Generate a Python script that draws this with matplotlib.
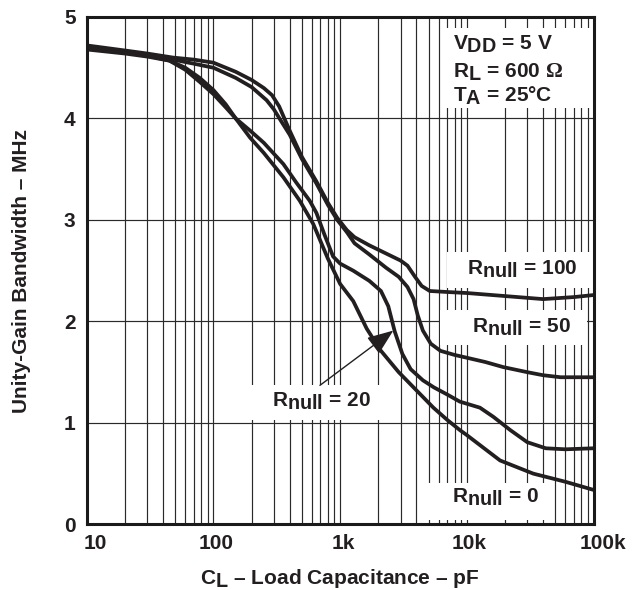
import matplotlib
matplotlib.use("Agg")
import matplotlib.pyplot as plt
from matplotlib.patches import Rectangle
from matplotlib.ticker import FixedLocator, LogLocator, NullFormatter
from matplotlib.transforms import ScaledTranslation

try:
    import matplotlib._mathtext as _mt
    _mt.SHRINK_FACTOR = 0.95   # subscripts nearly full size, as in the reference
except Exception:
    pass

plt.rcParams['font.family'] = ['Liberation Sans', 'DejaVu Sans']
plt.rcParams['font.weight'] = 'bold'
plt.rcParams['mathtext.fontset'] = 'custom'
plt.rcParams['mathtext.rm'] = 'Liberation Sans:bold'
plt.rcParams['mathtext.it'] = 'Liberation Sans:bold'
plt.rcParams['mathtext.bf'] = 'Liberation Sans:bold'
plt.rcParams['mathtext.sf'] = 'Liberation Serif'

# ---------------- data ----------------
cap_r100 = [10, 20, 30, 48, 70, 100, 150, 200, 250, 290, 330, 400, 500, 650, 800,
            950, 1130, 1300, 1700, 2300, 3000, 3400, 3900, 4400, 5100, 7000,
            10000, 20000, 40000, 70000, 100000]
bw_r100 = [4.72, 4.67, 4.64, 4.60, 4.58, 4.55, 4.46, 4.38, 4.30, 4.23, 4.12, 3.88,
           3.62, 3.38, 3.17, 3.02, 2.90, 2.83, 2.75, 2.67, 2.60, 2.55, 2.44, 2.35,
           2.30, 2.29, 2.28, 2.25, 2.22, 2.24, 2.26]

cap_r50 = [10, 20, 30, 48, 70, 100, 150, 200, 263, 300, 340, 400, 500, 650, 800,
           950, 1130, 1300, 1700, 2300, 2900, 3400, 3800, 4100, 4500, 5200, 6200,
           8000, 9400, 14000, 19400, 30000, 40000, 55000, 100000]
bw_r50 = [4.70, 4.66, 4.63, 4.58, 4.54, 4.50, 4.40, 4.31, 4.18, 4.09, 3.98, 3.84,
          3.60, 3.36, 3.15, 3.00, 2.88, 2.77, 2.66, 2.53, 2.44, 2.34, 2.22, 2.06,
          1.91, 1.78, 1.71, 1.67, 1.65, 1.60, 1.55, 1.50, 1.47, 1.45, 1.45]

cap_r20 = [10, 20, 30, 45, 60, 78, 100, 125, 150, 195, 250, 357, 450, 575, 650,
           750, 880, 1000, 1270, 1700, 2100, 2400, 2700, 3100, 3600, 4500, 5500,
           7000, 8800, 12700, 16200, 22000, 30000, 42000, 60000, 100000]
bw_r20 = [4.69, 4.65, 4.62, 4.57, 4.48, 4.36, 4.24, 4.11, 4.00, 3.88, 3.76, 3.55,
          3.37, 3.19, 3.07, 2.86, 2.64, 2.57, 2.50, 2.40, 2.30, 2.15, 1.90, 1.68,
          1.53, 1.42, 1.35, 1.28, 1.21, 1.15, 1.06, 0.93, 0.81, 0.75, 0.74, 0.75]

cap_r0 = [10, 20, 30, 45, 60, 78, 100, 125, 150, 195, 250, 357, 480, 614, 800,
          1000, 1270, 1620, 2070, 2900, 3800, 5450, 7000, 8800, 10000, 18300,
          33500, 60000, 100000]
bw_r0 = [4.68, 4.64, 4.61, 4.57, 4.50, 4.40, 4.28, 4.14, 4.00, 3.81, 3.66, 3.42,
         3.19, 2.96, 2.62, 2.37, 2.20, 1.93, 1.72, 1.50, 1.35, 1.15, 1.03, 0.93,
         0.88, 0.63, 0.50, 0.42, 0.34]

x_ticks = [10, 100, 1000, 10000, 100000]
x_tick_labels = ['10', '100', '1k', '10k', '100k']
y_ticks = [0, 1, 2, 3, 4, 5]

# ---------------- figure ----------------
fig = plt.figure(figsize=(6.32, 5.90), dpi=100)
ax = fig.add_axes([0.1372, 0.1112, 0.8019, 0.8600])
ax.set_xscale('log')
ax.set_xlim(10, 100000)
ax.set_ylim(0, 5)

ax.xaxis.set_major_locator(FixedLocator(x_ticks))
ax.set_xticklabels(x_tick_labels)
ax.xaxis.set_minor_locator(LogLocator(base=10, subs=range(2, 10)))
ax.xaxis.set_minor_formatter(NullFormatter())
ax.set_yticks(y_ticks)
ax.set_yticklabels([str(v) for v in y_ticks])

ax.set_axisbelow(True)
ax.grid(which='both', axis='x', color='#2a2a2a', lw=0.85)
ax.grid(which='major', axis='y', color='#2a2a2a', lw=0.85)
ax.tick_params(which='both', length=0)
ax.tick_params(axis='x', pad=7, labelsize=15)
ax.tick_params(axis='y', pad=8, labelsize=15)
for lbl in ax.get_xticklabels() + ax.get_yticklabels():
    lbl.set_fontweight('bold')
    lbl.set_color('#231f20')

# shift x tick labels slightly right, as in the reference
shifts = [9, 3, 3, 2, 9]
for lbl, s in zip(ax.get_xticklabels(), shifts):
    lbl.set_transform(lbl.get_transform() + ScaledTranslation(s / 100, 0, fig.dpi_scale_trans))

for sp in ax.spines.values():
    sp.set_linewidth(2.2)
    sp.set_color('#1a1a1a')
    sp.set_zorder(6)

curve_color = '#231f20'
for cx, cy in [(cap_r100, bw_r100), (cap_r50, bw_r50), (cap_r20, bw_r20), (cap_r0, bw_r0)]:
    ax.plot(cx, cy, color=curve_color, lw=2.7, solid_joinstyle='round',
            solid_capstyle='round', zorder=4)

# white label backgrounds (axes fraction)
boxes = [
    (0.703, 0.821, 0.294, 0.157),   # conditions
    (0.711, 0.466, 0.284, 0.071),   # Rnull = 100
    (0.697, 0.354, 0.290, 0.069),   # Rnull = 50
    (0.258, 0.206, 0.321, 0.069),   # Rnull = 20
    (0.668, 0.009, 0.252, 0.073),   # Rnull = 0
]
for bx, by, bw, bh in boxes:
    ax.add_patch(Rectangle((bx, by), bw, bh, transform=ax.transAxes,
                           facecolor='white', edgecolor='none', zorder=2))

tkw = dict(transform=ax.transAxes, fontsize=15, fontweight='bold', zorder=5,
           color='#231f20', ha='left', va='baseline')
ax.text(0.7504, 0.4915, r'$R_{null}$ = 100', **tkw)
ax.text(0.7603, 0.3772, r'$R_{null}$ = 50', **tkw)
ax.text(0.3656, 0.2314, r'$R_{null}$ = 20', **tkw)
ax.text(0.7208, 0.0422, r'$R_{null}$ = 0', **tkw)

ax.text(0.7227, 0.9350, r'$V_{DD}$ = 5 V', **tkw)
ax.text(0.7227, 0.8798, r'$R_{L}$ = 600 $\mathsf{\Omega}$', **tkw)
ax.text(0.7227, 0.8325, r'$T_{A}$ = 25°C', **tkw)

# arrow for Rnull = 20
ax.annotate('', xy=(2630, 1.91), xytext=(693, 1.37),
            arrowprops=dict(arrowstyle='-|>,head_length=0.9,head_width=0.35',
                            color='#231f20', lw=1.0, mutation_scale=18,
                            shrinkA=0, shrinkB=0),
            zorder=5)

ax.set_xlabel(r'$C_{L}$ – Load Capacitance – pF', fontsize=15, fontweight='bold',
              labelpad=10, color='#231f20')
ax.set_ylabel('Unity-Gain Bandwidth – MHz', fontsize=15, fontweight='bold',
              labelpad=24, color='#231f20')

fig.savefig('out.png', dpi=100)
